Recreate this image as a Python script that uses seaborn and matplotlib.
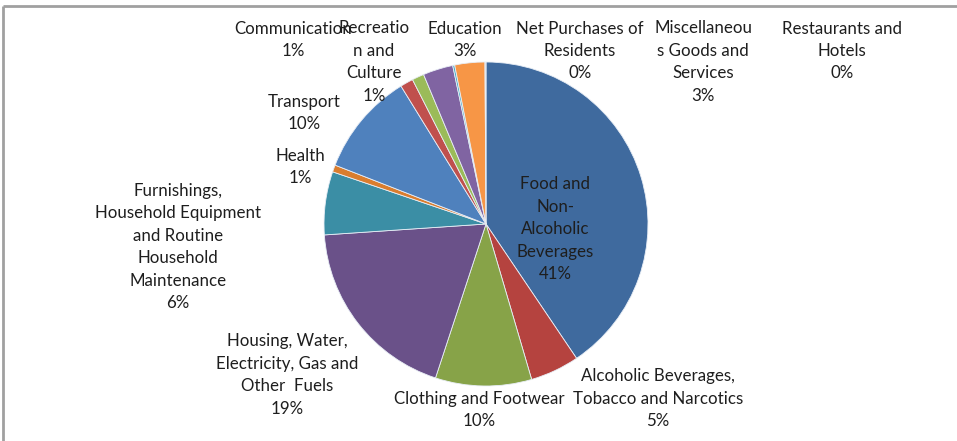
import matplotlib
matplotlib.use("Agg")
import matplotlib.pyplot as plt
import seaborn as sns

# Household consumption expenditure shares by COICOP division (%)
categories = [
    "Food and Non-Alcoholic Beverages",
    "Alcoholic Beverages, Tobacco and Narcotics",
    "Clothing and Footwear",
    "Housing, Water, Electricity, Gas and Other Fuels",
    "Furnishings, Household Equipment and Routine Household Maintenance",
    "Health",
    "Transport",
    "Communication",
    "Recreation and Culture",
    "Education",
    "Restaurants and Hotels",
    "Miscellaneous Goods and Services",
    "Net Purchases of Residents",
]
shares = [40.6, 4.9, 9.6, 18.9, 6.3, 0.7, 10.3, 1.3, 1.2, 3.0, 0.2, 3.0, 0.1]

# Wrapped label text as printed next to each slice
label_text = [
    "Food and\nNon-\nAlcoholic\nBeverages",
    "Alcoholic Beverages,\nTobacco and Narcotics",
    "Clothing and Footwear",
    "Housing, Water,\nElectricity, Gas and\nOther  Fuels",
    "Furnishings,\nHousehold Equipment\nand Routine\nHousehold\nMaintenance",
    "Health",
    "Transport",
    "Communication",
    "Recreatio\nn and\nCulture",
    "Education",
    "Restaurants and\nHotels",
    "Miscellaneou\ns Goods and\nServices",
    "Net Purchases of\nResidents",
]

colors = [
    "#3F6A9E", "#B5433F", "#87A348", "#6A5189", "#3B8EA5", "#D97D2E",
    "#4F81BD", "#C0504D", "#9BBB59", "#8064A2", "#4BACC6", "#F79646",
    "#A9C0DE",
]

# Label anchor points (pixel layout, origin top-left)
label_pos = [
    (555, 229), (658, 399), (479, 410), (287, 375), (178, 247),
    (300, 167), (304, 113), (293, 40), (374, 62), (465, 40),
    (842, 51), (703, 62), (580, 51),
]

W, H = 957, 441
sns.set_theme(style="white")
plt.rcParams["font.family"] = ["Lato", "DejaVu Sans"]

fig = plt.figure(figsize=(W / 100, H / 100), dpi=100)
ax = fig.add_axes([0, 0, 1, 1])

cx, cy, r = 486, 224, 162
ax.pie(
    shares,
    colors=colors,
    startangle=90,
    counterclock=False,
    center=(cx, H - cy),
    radius=r,
    frame=True,
    wedgeprops=dict(edgecolor="#E8EEF6", linewidth=0.6),
)
ax.set_xlim(0, W)
ax.set_ylim(0, H)
ax.set_aspect("equal")
ax.axis("off")

for txt, val, (x, y) in zip(label_text, shares, label_pos):
    ax.text(x, H - y, f"{txt}\n{val:.0f}%", ha="center", va="center",
            fontsize=12.2, color="#1E1E1E", linespacing=1.5)

# Chart-area frame (top and left edges)
ax.plot([3, W], [H - 6, H - 6], color="#A0A0A0", lw=2, solid_capstyle="butt")
ax.plot([3, 3], [0, H - 6], color="#A0A0A0", lw=2, solid_capstyle="butt")

fig.savefig("out.png", dpi=100)
